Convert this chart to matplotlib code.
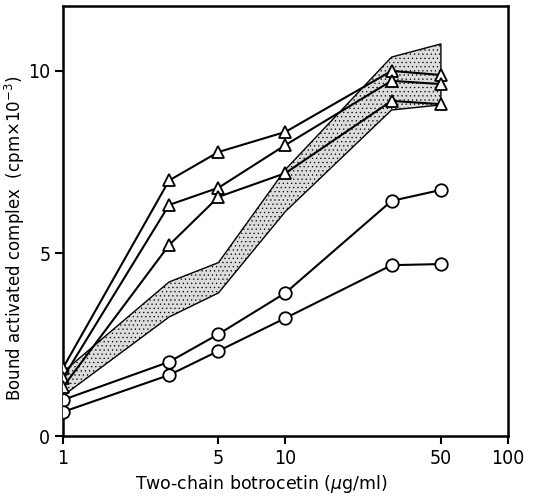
import matplotlib
matplotlib.use("Agg")
import matplotlib.pyplot as plt
from matplotlib import font_manager

conc = [1, 3, 5, 10, 30, 50]

tri_1 = [1.86, 7.0, 7.78, 8.33, 10.0, 9.89]
tri_2 = [1.59, 6.33, 6.8, 7.97, 9.73, 9.64]
tri_3 = [1.34, 5.23, 6.55, 7.2, 9.18, 9.09]

circ_1 = [0.99, 2.03, 2.79, 3.92, 6.44, 6.74]
circ_2 = [0.66, 1.67, 2.33, 3.23, 4.68, 4.71]

band_upper = [1.75, 4.22, 4.75, 7.3, 10.38, 10.74]
band_lower = [1.1, 3.26, 3.92, 6.15, 8.93, 9.07]

xticks = [1, 5, 10, 50, 100]
xticklabels = ["1", "5", "10", "50", "100"]
yticks = [0, 5, 10]
yticklabels = ["0", "5", "10"]

plt.rcParams["hatch.color"] = "#555555"
plt.rcParams["hatch.linewidth"] = 0.4

names = {f.name for f in font_manager.fontManager.ttflist}
tick_font = "Liberation Sans Narrow" if "Liberation Sans Narrow" in names else "DejaVu Sans"

fig = plt.figure(figsize=(5.38, 4.97), dpi=100)
ax = fig.add_axes([0.117, 0.1227, 0.827, 0.8653])

ax.fill_between(conc, band_lower, band_upper, facecolor="#dcdcdc",
                edgecolor="black", hatch="....", linewidth=1.0, zorder=1)

for ys in (tri_1, tri_2, tri_3):
    ax.plot(conc, ys, color="black", lw=1.5, marker="^", ms=9,
            mfc="white", mec="black", mew=1.3, zorder=3)
for ys in (circ_1, circ_2):
    ax.plot(conc, ys, color="black", lw=1.5, marker="o", ms=9,
            mfc="white", mec="black", mew=1.3, zorder=3)

ax.set_xscale("log")
ax.set_xlim(1, 100)
ax.set_ylim(0, 11.78)
ax.set_xticks(xticks)
ax.set_xticklabels(xticklabels, fontfamily=tick_font, fontstretch="condensed", fontsize=14)
ax.minorticks_off()
ax.set_yticks(yticks)
ax.set_yticklabels(yticklabels, fontfamily=tick_font, fontstretch="condensed", fontsize=14)
ax.tick_params(direction="out", length=6, width=1.5, pad=3)

for s in ax.spines.values():
    s.set_linewidth(1.8)

ax.set_xlabel("Two-chain botrocetin ($\\mu$g/ml)", fontsize=12.5)
ax.xaxis.set_label_coords(0.447, -0.085)
ax.set_ylabel("Bound activated complex  (cpm\u00d710$^{-3}$)", fontsize=12)
ax.yaxis.set_label_coords(-0.081, 0.46)

fig.savefig("out.png", dpi=100)
